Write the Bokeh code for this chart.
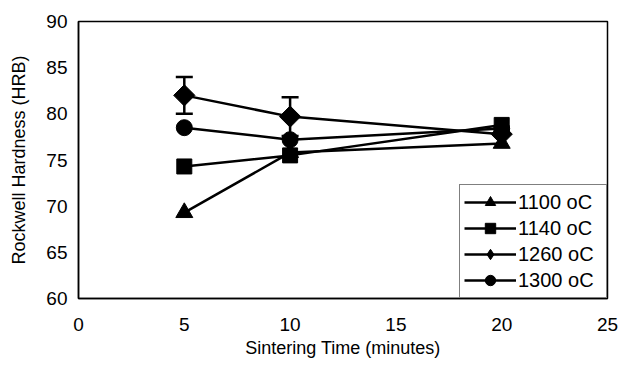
import math
from bokeh.plotting import figure
from bokeh.models import ColumnDataSource, Whisker, Legend, LegendItem, FixedTicker, Range1d
from bokeh.embed import file_html
from bokeh.resources import INLINE

time_min = [5, 10, 20]
hrb_1100 = [69.3, 75.8, 76.8]
hrb_1140 = [74.3, 75.5, 78.8]
hrb_1260 = [82.0, 79.7, 77.8]
hrb_1300 = [78.5, 77.2, 78.4]
err_1260 = [2.0, 2.1, 0.0]
series_labels = ["1100 oC", "1140 oC", "1260 oC", "1300 oC"]
x_ticks = [0, 5, 10, 15, 20, 25]
y_ticks = [60, 65, 70, 75, 80, 85, 90]

FONT = "Liberation Sans"

p = figure(width=618, height=365, output_backend="svg", toolbar_location=None,
           x_range=Range1d(0, 25), y_range=Range1d(60, 90),
           min_border_left=78, min_border_right=11, min_border_top=21, min_border_bottom=67)
p.background_fill_color = "white"
p.border_fill_color = "white"
p.outline_line_color = "black"
p.outline_line_width = 1.5
p.xgrid.visible = False
p.ygrid.visible = False

for ax in (p.xaxis[0], p.yaxis[0]):
    ax.major_tick_out = 0
    ax.major_tick_in = 0
    ax.minor_tick_out = 0
    ax.minor_tick_in = 0
    ax.axis_line_color = "black"
    ax.axis_line_width = 1.5
    ax.major_label_text_font = FONT
    ax.major_label_text_font_size = "19px"
    ax.major_label_text_color = "black"
    ax.axis_label_text_font = FONT
    ax.axis_label_text_font_size = "18px"
    ax.axis_label_text_font_style = "normal"
    ax.axis_label_text_color = "black"

p.xaxis.ticker = FixedTicker(ticks=x_ticks)
p.yaxis.ticker = FixedTicker(ticks=y_ticks)
p.xaxis.axis_label = "Sintering Time (minutes)"
p.yaxis.axis_label = "Rockwell Hardness (HRB)"
p.xaxis.major_label_standoff = 19
p.yaxis.major_label_standoff = 11
p.xaxis.axis_label_standoff = 4
p.yaxis.axis_label_standoff = 14

# error bars for 1260 oC
up = [v + e for v, e in zip(hrb_1260, err_1260)]
lo = [v - e for v, e in zip(hrb_1260, err_1260)]
esrc = ColumnDataSource(dict(x=time_min[:2], upper=up[:2], lower=lo[:2]))
w = Whisker(source=esrc, base="x", upper="upper", lower="lower",
            line_color="black", line_width=2.5)
w.upper_head.size = 17
w.lower_head.size = 17
w.upper_head.line_width = 2.5
w.lower_head.line_width = 2.5
p.add_layout(w)

series = [
    (hrb_1100, "triangle", 17, 0.0, "triangle"),
    (hrb_1140, "square", 15, 0.0, "square"),
    (hrb_1260, "square", 15, math.pi / 4, "diamond"),
    (hrb_1300, "circle", 16, 0.0, "circle"),
]
items = []
for (vals, marker, size, ang, leg_marker), lab in zip(series, series_labels):
    src = ColumnDataSource(dict(x=time_min, y=vals))
    l = p.line("x", "y", source=src, line_color="black", line_width=2.5)
    leg_r = None
    if leg_marker != marker:
        # narrower diamond hidden beneath the rotated square, used for the legend swatch
        leg_r = p.scatter("x", "y", source=src, marker=leg_marker, size=20,
                          fill_color="black", line_color="black")
    s = p.scatter("x", "y", source=src, marker=marker, size=size, angle=ang,
                  fill_color="black", line_color="black")
    items.append(LegendItem(label=lab, renderers=[l, leg_r if leg_r is not None else s]))

legend = Legend(items=items, location="bottom_right")
legend.label_text_font = FONT
legend.label_text_font_size = "20px"
legend.label_text_color = "black"
legend.border_line_color = "black"
legend.border_line_width = 1
legend.glyph_width = 52
legend.glyph_height = 26
legend.label_height = 26
legend.spacing = 0
legend.padding = 4
legend.margin = 0
legend.label_standoff = 2
legend.label_width = 84
legend.background_fill_alpha = 1
p.add_layout(legend)

open("out.html", "w").write(file_html(p, INLINE))
